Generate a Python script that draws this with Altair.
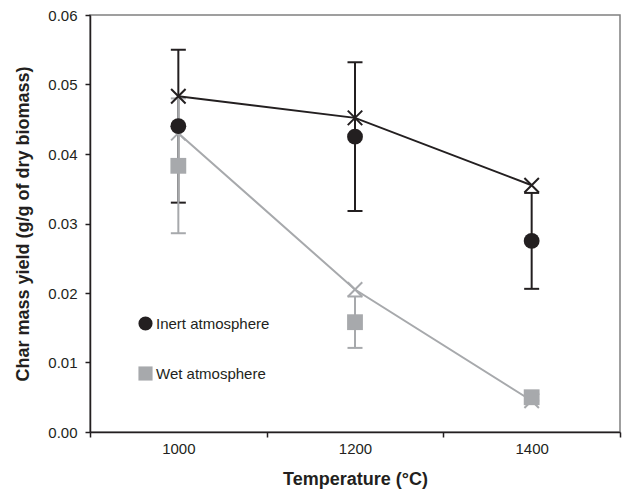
import altair as alt
import pandas as pd

# Char yield measured at each reactor temperature, with error half-widths,
# plus the modelled yield (crosses joined by lines) for each atmosphere.
temperature = [1000, 1200, 1400]
series_names = ["Inert atmosphere", "Wet atmosphere"]
inert_yield = [0.0440, 0.0425, 0.0275]
inert_error = [0.0110, 0.0107, 0.0069]
wet_yield = [0.0383, 0.0158, 0.0050]
wet_error = [0.0097, 0.0037, 0.0005]
inert_model = [0.0483, 0.0452, 0.0355]
wet_model = [0.0430, 0.0205, 0.0045]
y_ticks = [0.00, 0.01, 0.02, 0.03, 0.04, 0.05, 0.06]
x_ticks = [900, 1000, 1100, 1200, 1300, 1400, 1500]

INK = "#231f20"
GREY = "#a7a9ac"
FONT = "Liberation Sans"

rows = []
for name, means, errs, model in zip(
    series_names, [inert_yield, wet_yield], [inert_error, wet_error], [inert_model, wet_model]
):
    for t, m, e, p in zip(temperature, means, errs, model):
        rows.append({"series": name, "temp": t, "y": m, "lo": m - e, "hi": m + e, "model": p})
df = pd.DataFrame(rows)

x_enc = alt.X(
    "temp:Q",
    scale=alt.Scale(domain=[900, 1500], nice=False, zero=False),
    axis=alt.Axis(
        values=x_ticks,
        format="d",
        labelExpr="datum.value % 200 == 0 ? datum.label : ''",
        tickOpacity={"condition": {"test": "datum.value % 200 == 0", "value": 0}, "value": 1},
        title="Temperature (°C)",
        grid=False,
        tickSize=5,
        labelPadding=4,
        titlePadding=14,
    ),
)
y_scale = alt.Scale(domain=[0, 0.06], nice=False, zero=False)
y_axis = alt.Axis(
    values=y_ticks,
    format=".2f",
    title="Char mass yield (g/g of dry biomass)",
    grid=False,
    tickSize=5,
    labelPadding=8,
    titlePadding=15,
)

base = alt.Chart(df)
colors = {"Inert atmosphere": INK, "Wet atmosphere": GREY}

bars = []
models = []
for name in series_names:
    c = colors[name]
    sub = base.transform_filter(alt.datum.series == name)
    bars.append(
        sub.mark_rule(color=c, strokeWidth=2).encode(
            x=x_enc, y=alt.Y("lo:Q", scale=y_scale, axis=y_axis), y2="hi:Q"
        )
    )
    for end in ["lo", "hi"]:
        bars.append(
            sub.mark_tick(color=c, thickness=2, size=15, orient="horizontal", opacity=1).encode(
                x=x_enc, y=alt.Y(f"{end}:Q", scale=y_scale, axis=y_axis)
            )
        )
    models.append(
        sub.mark_line(color=c, strokeWidth=2).encode(
            x=x_enc, y=alt.Y("model:Q", scale=y_scale, axis=y_axis)
        )
    )
    models.append(
        sub.mark_point(
            shape="M-1,-1L1,1M1,-1L-1,1", filled=False, color=c, strokeWidth=2, size=210, opacity=1
        ).encode(x=x_enc, y=alt.Y("model:Q", scale=y_scale, axis=y_axis))
    )

means = base.mark_point(filled=True, opacity=1, size=250, strokeWidth=0).encode(
    x=x_enc,
    y=alt.Y("y:Q", scale=y_scale, axis=y_axis),
    color=alt.Color(
        "series:N",
        scale=alt.Scale(domain=series_names, range=[INK, GREY]),
        legend=alt.Legend(
            orient="none",
            legendX=48,
            legendY=301,
            title=None,
            symbolSize=200,
            symbolStrokeWidth=0,
            labelFontSize=15,
            labelFont=FONT,
            labelColor=INK,
            labelOffset=3,
            rowPadding=34,
        ),
    ),
    shape=alt.Shape("series:N", scale=alt.Scale(domain=series_names, range=["circle", "square"])),
)

chart = (
    alt.layer(*bars, *models, means)
    .properties(
        width=530,
        height=417,
        autosize=alt.AutoSizeParams(type="none"),
        padding={"left": 90, "top": 15, "right": 4, "bottom": 60},
        background="white",
    )
    .configure_view(stroke="#808080", strokeWidth=1.5)
    .configure_axis(
        domainColor=INK,
        domainWidth=1.5,
        tickColor=INK,
        tickWidth=1.5,
        labelColor=INK,
        labelFont=FONT,
        labelFontSize=15,
        titleColor=INK,
        titleFont=FONT,
        titleFontSize=18,
        titleFontWeight="bold",
    )
)

chart.save("out.html", embed_options={"renderer": "svg", "actions": False})
